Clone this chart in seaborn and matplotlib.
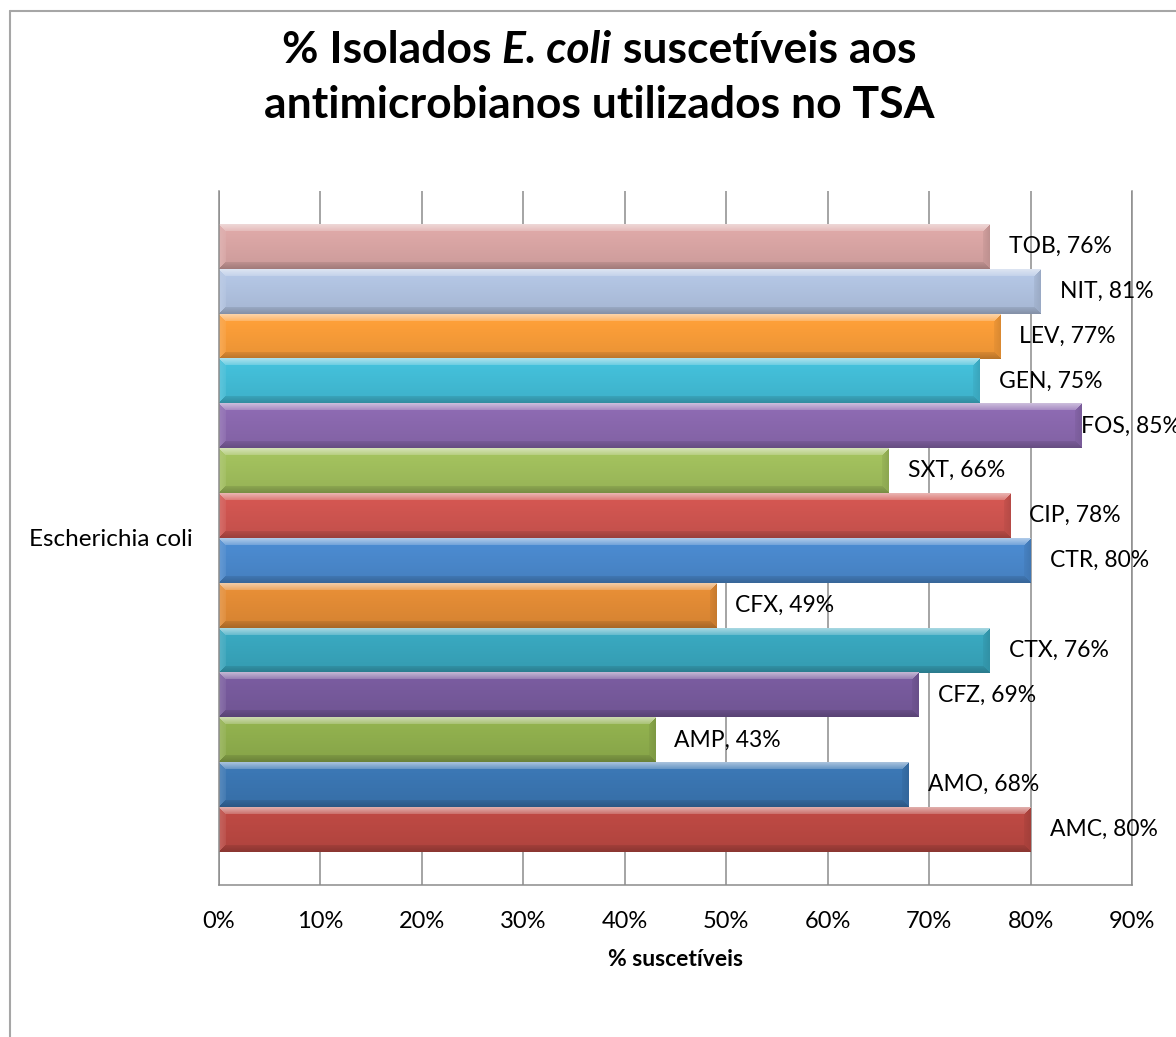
import numpy as np
import pandas as pd
import seaborn as sns
import matplotlib
matplotlib.use("Agg")
import matplotlib.pyplot as plt
from matplotlib.colors import to_rgb
from matplotlib.lines import Line2D

# ---------------- data ----------------
category = "Escherichia coli"
drugs = ["AMC", "AMO", "AMP", "CFZ", "CTX", "CFX", "CTR",
         "CIP", "SXT", "FOS", "GEN", "LEV", "NIT", "TOB"]
values = [80, 68, 43, 69, 76, 49, 80, 78, 66, 85, 75, 77, 81, 76]
bar_colors = ["#BA4842", "#3A75B1", "#8FAE4D", "#775A9C", "#38A5BC", "#E28B35", "#4A88CC",
              "#CF5550", "#A0BE5C", "#8A68AE", "#42BCD6", "#F89C38", "#B0C2E0", "#D9A5A4"]
x_ticks = [0, 10, 20, 30, 40, 50, 60, 70, 80, 90]
x_tick_labels = ["0%", "10%", "20%", "30%", "40%", "50%", "60%", "70%", "80%", "90%"]
title_line1 = [("% Isolados ", "normal"), ("E. coli", "italic"), (" suscetíveis aos", "normal")]
title_line2 = "antimicrobianos utilizados no TSA"
x_label = "% suscetíveis"

df = pd.DataFrame({"grupo": [category] * len(drugs),
                   "antimicrobiano": drugs,
                   "pct": values})
order_top = drugs[::-1]
palette = dict(zip(drugs, bar_colors))

# ---------------- figure ----------------
sns.set_theme(style="white")
plt.rcParams["font.family"] = ["Lato", "DejaVu Sans"]

W_PX, H_PX = 1176, 1037
fig = plt.figure(figsize=(W_PX / 100, H_PX / 100), dpi=100)
fig.patch.set_facecolor("white")
ax_l, ax_r, ax_t, ax_b = 219, 1132, 191, 885
ax = fig.add_axes([ax_l / W_PX, 1 - ax_b / H_PX, (ax_r - ax_l) / W_PX, (ax_b - ax_t) / H_PX])

sns.barplot(data=df, x="pct", y="grupo", hue="antimicrobiano", hue_order=order_top,
            palette=palette, orient="h", width=628 / 694, dodge=True, legend=False,
            saturation=1, ax=ax, edgecolor="none", linewidth=0)

ax.set_xlim(0, 90)
ax.set_ylim(0.5, -0.5)
ax.set_xticks(x_ticks)
ax.set_xticklabels(x_tick_labels)
ax.tick_params(axis="x", length=0, pad=19, labelsize=17, colors="black")
ax.tick_params(axis="y", length=0, pad=19, labelsize=17.5, colors="black")
ax.set_ylabel("")
ax.set_xlabel(x_label, fontsize=16.5, fontweight="bold", color="black")
ax.xaxis.set_label_coords(0.5, -(960 - ax_b) / (ax_b - ax_t))
ax.xaxis.label.set_va("center")

grid_c = "#8C8C8C"
ax.set_axisbelow(True)
ax.grid(axis="x", color=grid_c, linewidth=1.1)
ax.grid(axis="y", visible=False)
for side in ["left", "bottom", "right"]:
    ax.spines[side].set_color(grid_c)
    ax.spines[side].set_linewidth(1.1)
ax.spines["top"].set_visible(False)


def lighten(c, a):
    return c + (1 - c) * a


def darken(c, a):
    return c * (1 - a)


def bevel_image(rgb, H, W, b=7):
    rgb = np.array(rgb)
    r = np.arange(H)[:, None] * np.ones((1, W))
    c = np.arange(W)[None, :] * np.ones((H, 1))
    d = np.stack([r, H - 1 - r, c, W - 1 - c])
    side = np.argmin(d, axis=0)
    m = np.min(d, axis=0)
    t = (r / max(H - 1, 1))[..., None]
    body = rgb[None, None, :] * (1.04 - 0.10 * t)
    body = np.clip(body, 0, 1)
    img = body.copy()
    depth = np.clip(1 - m / b, 0, 1)[..., None]
    top_c = lighten(rgb, 0.55)
    bot_c = darken(rgb, 0.25)
    right_c = darken(rgb, 0.12)
    left_c = lighten(rgb, 0.15)
    for k, col in enumerate([top_c, bot_c, left_c, right_c]):
        mask = ((side == k) & (m < b))[..., None]
        blend = body * (1 - 0.35 - 0.65 * depth) + col[None, None, :] * (0.35 + 0.65 * depth)
        img = np.where(mask, blend, img)
    return np.clip(img, 0, 1)


fig.canvas.draw()
px_per_x = (ax_r - ax_l) / 90
px_per_y = (ax_b - ax_t) / 1.0
patches = sorted(ax.patches, key=lambda p: p.get_y())
labels = []
for p, drug in zip(patches, order_top):
    x0 = p.get_x()
    y0 = p.get_y()
    w = p.get_width()
    h = p.get_height()
    rgb = to_rgb(p.get_facecolor())
    Hp = max(int(round(h * px_per_y)), 2)
    Wp = max(int(round(w * px_per_x)), 2)
    img = bevel_image(rgb, Hp, Wp)
    ax.imshow(img, extent=(x0, x0 + w, y0 + h, y0), origin="upper", aspect="auto",
              interpolation="bilinear", zorder=2)
    p.set_visible(False)
    val = values[drugs.index(drug)]
    ann = ax.annotate(f"{drug}, {val}%", xy=(x0 + w, y0 + h / 2), xytext=(13.7, 0),
                      textcoords="offset points", ha="left", va="center",
                      fontsize=16.5, color="black", annotation_clip=False, zorder=5)
    labels.append(ann)

ax.set_xlim(0, 90)
ax.set_ylim(0.5, -0.5)

fig.canvas.draw()
renderer = fig.canvas.get_renderer()
for ann in labels:
    bb = ann.get_window_extent(renderer)
    if bb.x1 > W_PX:
        ann.xyann = (0, 0)

# ---------------- title ----------------
cx = 599
title_fs = 32
y1 = 1 - 63 / H_PX
y2 = 1 - 118 / H_PX
pieces = []
for txt, style in title_line1:
    t = fig.text(0, y1, txt, fontsize=title_fs, fontweight="bold", fontstyle=style,
                 ha="left", va="baseline", color="black")
    pieces.append(t)
fig.canvas.draw()
widths = [t.get_window_extent(renderer).width for t in pieces]
xstart = cx - sum(widths) / 2
for t, wd in zip(pieces, widths):
    t.set_x(xstart / W_PX)
    xstart += wd
fig.text(cx / W_PX, y2, title_line2, fontsize=title_fs, fontweight="bold",
         ha="center", va="baseline", color="black")

# ---------------- chart border ----------------
border_c = "#A6A6A6"
fig.add_artist(Line2D([10 / W_PX, 1.0], [1 - 11 / H_PX, 1 - 11 / H_PX],
                      transform=fig.transFigure, color=border_c, linewidth=1.5))
fig.add_artist(Line2D([10 / W_PX, 10 / W_PX], [0.0, 1 - 11 / H_PX],
                      transform=fig.transFigure, color=border_c, linewidth=1.5))

fig.savefig("out.png", dpi=100, facecolor="white")
